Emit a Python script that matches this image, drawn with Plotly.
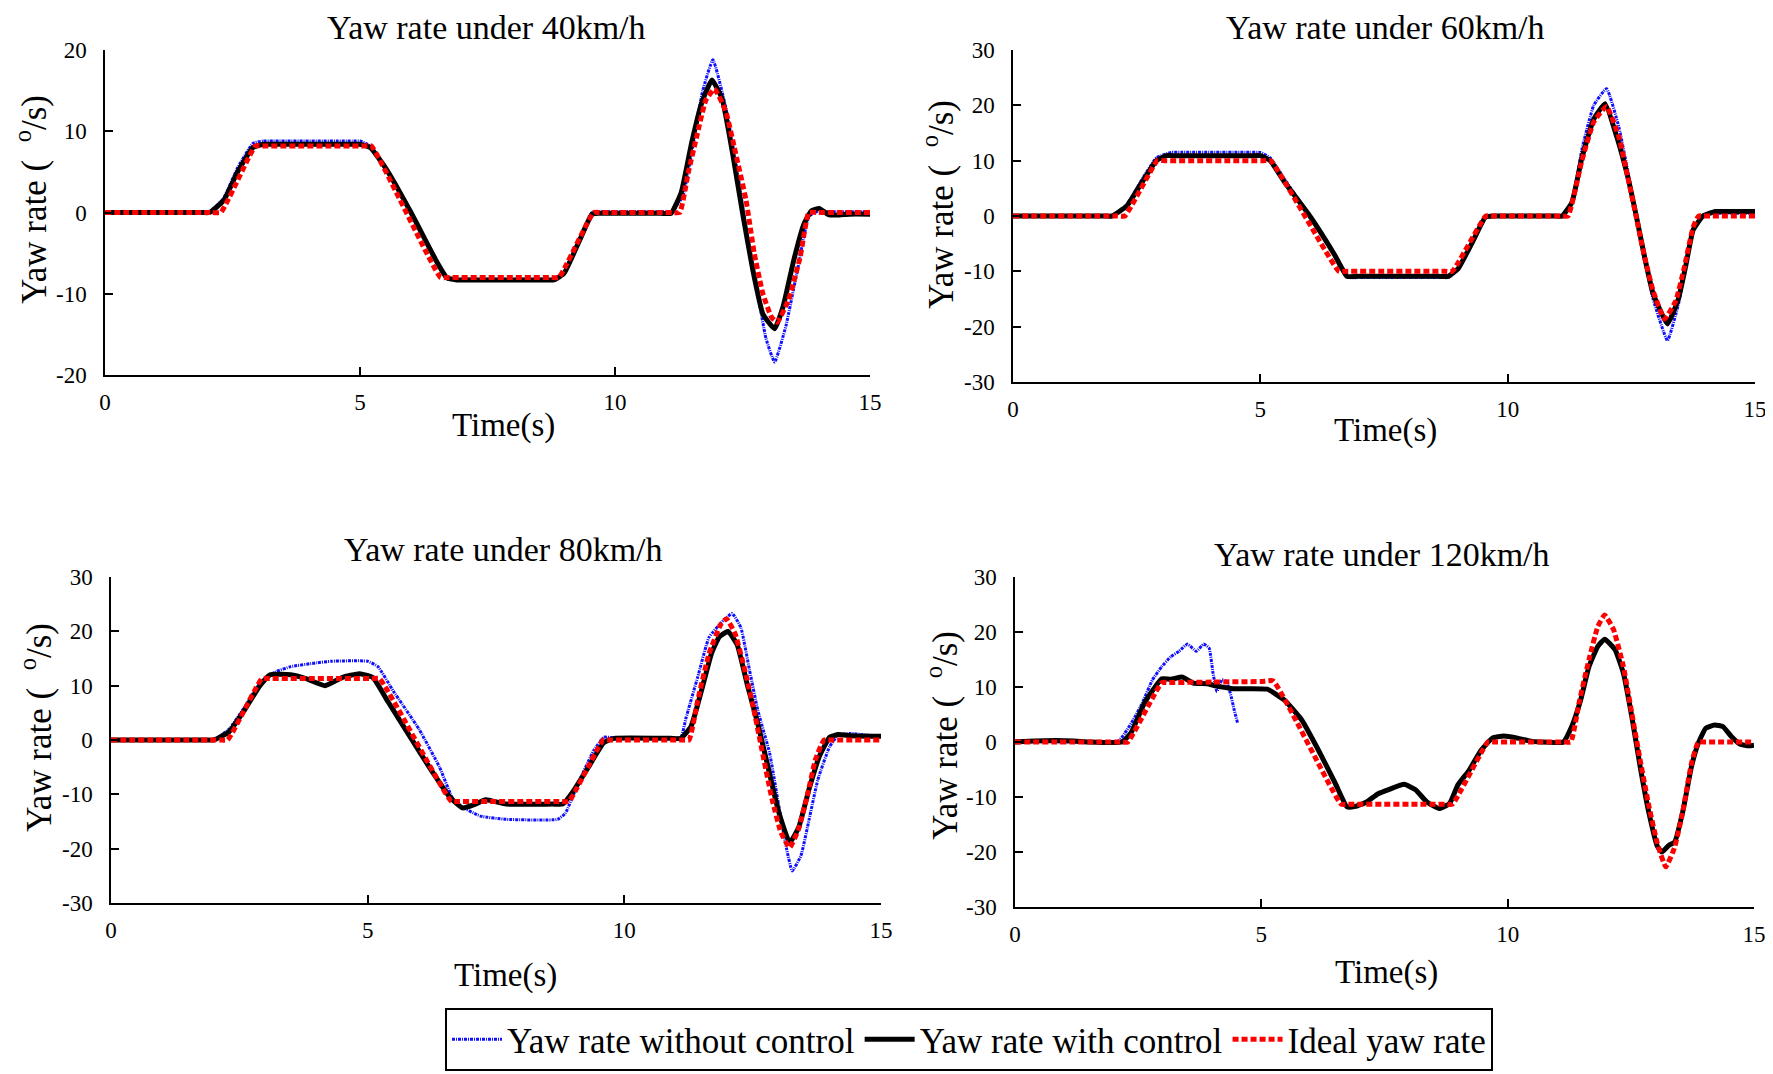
import plotly.graph_objects as go

W, H = 1773, 1074          # browser window
OFF = 8                    # default page margin around the plot div
FW, FH = W - OFF, H - OFF  # figure size
FONT = "Liberation Serif"

# ---------------- data ----------------
# 40 km/h
t40_wo = [0, 1.9, 2.05, 2.33, 2.6, 2.9, 3.1, 3.3, 4.85, 5.0, 5.2, 5.5, 6.0, 6.5, 6.7, 6.9, 8.6, 8.8, 9.0, 9.3, 9.55, 9.7, 9.9, 10.9, 11.1, 11.33, 11.55, 11.72, 11.92, 12.17, 12.4, 12.57, 12.8, 12.96, 13.13, 13.35, 13.58, 13.8, 13.95, 14.1, 15]
y40_wo = [0, 0, 0, 1.8, 5.5, 8.5, 8.8, 8.8, 8.8, 8.8, 8.2, 5.5, 0, -6, -8.2, -8.2, -8.2, -8.2, -7.3, -3.3, 0, 0.1, 0.1, 0.1, 0.1, 2, 9, 15, 18.8, 13, 5, -2, -10, -15.5, -18.4, -14, -7, -0.5, 0.1, 0.1, 0.1]
t40_wc = [0, 1.9, 2.05, 2.33, 2.6, 2.9, 3.1, 3.3, 4.85, 5.0, 5.2, 5.5, 6.0, 6.5, 6.7, 6.9, 7.1, 8.6, 8.8, 9.0, 9.3, 9.55, 9.7, 9.9, 10.9, 11.1, 11.3, 11.5, 11.7, 11.9, 12.1, 12.3, 12.5, 12.7, 12.9, 13.13, 13.3, 13.5, 13.7, 13.85, 14.0, 14.2, 14.4, 14.6, 15]
y40_wc = [0, 0, 0, 1.5, 5, 8.0, 8.4, 8.4, 8.4, 8.4, 8.0, 5.5, 0, -6, -8.0, -8.3, -8.3, -8.3, -8.3, -7.5, -3.5, -0.2, -0.1, -0.1, -0.1, -0.1, 2.5, 8.5, 13.5, 16.3, 14, 7.5, 0, -7, -12.5, -14.3, -11.5, -6, -1.5, 0.2, 0.5, -0.3, -0.3, -0.2, -0.2]
t40_id = [0, 2.1, 2.27, 2.95, 3.1, 5.07, 5.22, 6.58, 6.73, 8.75, 8.9, 9.58, 9.73, 11.12, 11.27, 11.44, 11.6, 11.78, 11.95, 12.17, 12.34, 12.57, 12.73, 12.9, 13.07, 13.18, 13.4, 13.63, 13.8, 13.95, 15]
y40_id = [0, 0, 0, 8.2, 8.2, 8.2, 8.2, -8.0, -8.0, -8.0, -8.0, 0, 0, 0, 0, 5, 9.3, 13.8, 15.2, 12.5, 8, 1.5, -5, -10, -12.9, -13.5, -10.8, -5.5, 0, 0, 0]

# 60 km/h
t60_wo = [0, 1.85, 2.0, 2.3, 2.6, 2.9, 3.2, 3.4, 4.8, 5.0, 5.2, 5.5, 6.0, 6.5, 6.8, 7.0, 8.6, 8.8, 9.0, 9.3, 9.55, 9.75, 10.9, 11.1, 11.3, 11.5, 11.74, 12.0, 12.25, 12.43, 12.6, 12.77, 12.94, 13.23, 13.45, 13.6, 13.75, 13.95, 14.2, 14.4, 15]
y60_wo = [0, 0, 0, 2, 6.5, 10.5, 11.5, 11.5, 11.5, 11.5, 10.5, 6.5, 0, -7, -11.1, -11.1, -11.1, -11.1, -9.5, -4.5, -0.2, 0, 0, 0, 2.5, 12, 20, 23, 16, 8, 0, -8, -15, -22.5, -16, -9, -2.5, 0, 0.5, 0.5, 0.5]
t60_wc = [0, 1.85, 2.0, 2.3, 2.6, 2.9, 3.1, 3.3, 4.8, 5.0, 5.2, 5.5, 6.0, 6.5, 6.75, 6.95, 8.6, 8.8, 9.0, 9.3, 9.55, 9.75, 10.9, 11.1, 11.3, 11.5, 11.74, 11.97, 12.2, 12.43, 12.6, 12.77, 12.94, 13.23, 13.45, 13.6, 13.75, 13.95, 14.2, 14.4, 15]
y60_wc = [0, 0, 0, 1.8, 6, 10, 10.9, 10.9, 10.9, 10.9, 10, 6, 0, -7, -10.9, -10.9, -10.9, -10.9, -9.5, -4.5, -0.2, 0, 0, 0, 2.5, 10.5, 17.5, 20.3, 14.5, 7, 0, -7.5, -14, -19.5, -15, -9, -2.5, 0, 0.8, 0.8, 0.8]
t60_id = [0, 2.1, 2.26, 2.92, 3.07, 5.06, 5.21, 6.59, 6.74, 8.73, 8.88, 9.56, 9.71, 11.07, 11.22, 11.5, 11.74, 12.0, 12.25, 12.43, 12.6, 12.77, 12.94, 13.17, 13.4, 13.57, 13.75, 13.86, 14.0, 15]
y60_id = [0, 0, 0, 10, 10, 10, 10, -10, -10, -10, -10, 0, 0, 0, 0, 10, 17, 19.8, 14.2, 7, -0.2, -7.5, -13.5, -18.6, -15.3, -9.3, -2, 0, 0, 0]

# 80 km/h
t80_wo = [0, 1.85, 2.0, 2.3, 2.6, 2.9, 3.2, 3.5, 4.0, 4.3, 5.0, 5.2, 5.5, 6.0, 6.4, 6.7, 7.2, 7.7, 8.7, 8.85, 9.1, 9.4, 9.6, 9.8, 10.9, 11.1, 11.2, 11.43, 11.65, 11.93, 12.1, 12.27, 12.44, 12.6, 12.83, 13.0, 13.16, 13.27, 13.44, 13.6, 13.77, 14.0, 14.17, 14.4, 15]
y80_wo = [0, 0, 0, 2, 6, 10.5, 12.5, 13.5, 14.2, 14.5, 14.5, 13.5, 9, 2, -5, -11.5, -14, -14.6, -14.6, -13.5, -8, -2, 0.5, 0.4, 0.4, 0.4, 4, 11.6, 18.9, 22, 23.3, 20.7, 12.8, 5.5, -2.4, -11.6, -20, -24.1, -21.3, -14.6, -7.3, -1.2, 0.9, 1.2, 0.6]
t80_wc = [0, 1.85, 2.0, 2.3, 2.6, 2.9, 3.1, 3.5, 3.8, 4.17, 4.5, 4.84, 5.1, 5.4, 5.8, 6.2, 6.6, 6.85, 7.1, 7.3, 7.7, 8.6, 8.8, 9.0, 9.3, 9.6, 9.8, 10.9, 11.1, 11.3, 11.5, 11.7, 11.85, 12.02, 12.2, 12.4, 12.6, 12.8, 13.0, 13.22, 13.4, 13.6, 13.8, 14.0, 14.17, 14.4, 15]
y80_wc = [0, 0, 0, 1.5, 5.5, 10, 12, 12, 11.3, 10, 11.5, 12.2, 11.5, 7, 1, -5, -10.5, -12.5, -11.8, -11, -11.8, -11.8, -11.8, -9.5, -5, -0.5, 0.3, 0.3, 0.3, 2.5, 9, 16, 19, 20, 17.5, 10, 3, -5, -13, -18.9, -16, -9, -3, 0.5, 1.0, 0.8, 0.7]
t80_id = [0, 2.12, 2.27, 2.94, 3.09, 5.08, 5.23, 6.63, 6.78, 8.77, 8.92, 9.59, 9.74, 11.11, 11.26, 11.43, 11.65, 11.88, 11.99, 12.16, 12.38, 12.55, 12.72, 12.88, 13.05, 13.22, 13.39, 13.56, 13.72, 13.89, 14.04, 15]
y80_id = [0, 0, 0, 11.3, 11.3, 11.3, 11.3, -11.3, -11.3, -11.3, -11.3, 0, 0, 0, 0, 7.3, 15.9, 21.3, 22.3, 19.5, 11.6, 4.3, -3.7, -11, -17, -19.8, -16.5, -10.4, -3.7, 0, 0, 0]

# 120 km/h (uncontrolled run ends early)
t120_wo = [0, 2.1, 2.23, 2.4, 2.58, 2.79, 2.98, 3.16, 3.33, 3.5, 3.68, 3.83, 3.94, 4.02, 4.1, 4.2, 4.29, 4.37, 4.45, 4.52]
y120_wo = [0.2, 0.2, 1.6, 4, 7, 11.3, 13.7, 15.5, 16.5, 17.8, 16.5, 17.8, 17.1, 12.5, 9.2, 11.3, 11, 8.9, 5.8, 3.4]
t120_wc = [0, 0.4, 1.2, 1.5, 2.17, 2.35, 2.64, 2.98, 3.16, 3.4, 3.62, 3.9, 4.08, 4.43, 5.12, 5.47, 5.82, 6.16, 6.5, 6.74, 6.91, 7.14, 7.37, 7.6, 7.9, 8.13, 8.36, 8.61, 8.82, 8.99, 9.22, 9.46, 9.69, 9.92, 10.16, 10.44, 10.67, 11.13, 11.3, 11.48, 11.65, 11.83, 11.97, 12.18, 12.35, 12.52, 12.69, 12.87, 13.04, 13.13, 13.27, 13.39, 13.56, 13.73, 13.87, 14.02, 14.2, 14.37, 14.54, 14.72, 14.9, 15]
y120_wc = [0, 0.2, 0.2, 0, 0, 1.6, 7.3, 11.5, 11.4, 11.8, 10.7, 10.6, 10.2, 9.7, 9.6, 7.6, 4, -1.5, -7.5, -11.8, -11.7, -10.9, -9.4, -8.6, -7.7, -8.7, -10.9, -12.1, -11.2, -7.8, -5.1, -1.5, 0.7, 1.1, 0.8, 0.2, 0, 0, 2.8, 7.6, 13.7, 17.4, 18.7, 16.8, 12.5, 4.6, -4.5, -13, -19, -20, -18.8, -18.2, -12.4, -4.5, -0.2, 2.5, 3.1, 2.8, 1, -0.4, -0.7, -0.6]
t120_id = [0, 2.14, 2.29, 2.98, 3.13, 4.0, 5.0, 5.24, 6.62, 6.77, 8.73, 8.88, 9.6, 9.75, 11.13, 11.28, 11.46, 11.65, 11.83, 11.97, 12.15, 12.35, 12.52, 12.69, 12.87, 13.04, 13.21, 13.39, 13.56, 13.73, 13.87, 14.02, 15]
y120_id = [0, 0, 0, 10.8, 10.8, 10.9, 11.0, 11.1, -11.3, -11.3, -11.3, -11.3, 0, 0, 0, 0, 7.6, 15, 21, 23.1, 20.4, 13.7, 5.2, -3.3, -11.8, -18.5, -22.7, -19.1, -12.4, -3.9, 0, 0, 0]

panel_titles = ["Yaw rate under 40km/h", "Yaw rate under 60km/h",
                "Yaw rate under 80km/h", "Yaw rate under 120km/h"]
series_names = ["Yaw rate without control", "Yaw rate with control", "Ideal yaw rate"]
x_ticks = [0, 5, 10, 15]
y_ticks_40 = [-20, -10, 0, 10, 20]
y_ticks_other = [-30, -20, -10, 0, 10, 20, 30]

panels = [
    (t40_wo, y40_wo, t40_wc, y40_wc, t40_id, y40_id, y_ticks_40),
    (t60_wo, y60_wo, t60_wc, y60_wc, t60_id, y60_id, y_ticks_other),
    (t80_wo, y80_wo, t80_wc, y80_wc, t80_id, y80_id, y_ticks_other),
    (t120_wo, y120_wo, t120_wc, y120_wc, t120_id, y120_id, y_ticks_other),
]

# ---------------- layout geometry (screen pixels) ----------------
boxes = [(105, 870, 50, 375), (1013, 1755, 50, 382),
         (111, 881, 577, 903), (1015, 1754, 577, 907)]

def px(x):
    return (x - OFF) / FW

def py(y):
    return 1 - (y - OFF) / FH

fig = go.Figure()

styles = [
    dict(color="#1010ff", width=3, dash="3px,1px,1px,1px", shape="spline", smoothing=0.4),
    dict(color="#000000", width=5, shape="spline", smoothing=0.4),
    dict(color="#ff0000", width=5, dash="6px,3px", shape="spline", smoothing=0.4),
]

for i, p in enumerate(panels):
    xs = [p[0], p[2], p[4]]
    ys = [p[1], p[3], p[5]]
    ax = "" if i == 0 else str(i + 1)
    for k in range(3):
        fig.add_trace(go.Scatter(
            x=xs[k], y=ys[k], mode="lines", name=series_names[k],
            line=styles[k], xaxis="x" + ax, yaxis="y" + ax,
            showlegend=(i == 0),
        ))
    l, r, t, b = boxes[i]
    yt = p[6]
    common = dict(showline=True, linecolor="black", linewidth=1.5,
                  ticks="inside", ticklen=8, tickwidth=1.5, tickcolor="black",
                  showgrid=False, zeroline=False,
                  tickfont=dict(family=FONT, size=23, color="black"))
    fig.layout["xaxis" + ax] = dict(domain=[px(l), px(r)], range=[0, 15],
                                    tickvals=x_ticks, ticktext=[str(v) for v in x_ticks],
                                    ticklabelstandoff=6, anchor="y" + ax, **common)
    fig.layout["yaxis" + ax] = dict(domain=[py(b), py(t)], range=[yt[0], yt[-1]],
                                    tickvals=yt, ticktext=[str(v) for v in yt],
                                    ticklabelstandoff=12, anchor="x" + ax, **common)

# (title cx, title top, xlabel cx, xlabel cy, ylabel cx, ylabel cy)
text_pos = [(486, 8, 503, 425, 32, 200),
            (1385, 8, 1385, 430, 938, 205),
            (504, 530, 505, 975, 36, 728),
            (1382, 535, 1386, 972, 942, 735)]

ann = []
for i, (tx, ty, xx, xy, yx, yy) in enumerate(text_pos):
    ann.append(dict(text=panel_titles[i], x=px(tx), y=py(ty), xref="paper", yref="paper",
                    showarrow=False, xanchor="center", yanchor="top", borderpad=0,
                    font=dict(family=FONT, size=34, color="black")))
    ann.append(dict(text="Time(s)", x=px(xx), y=py(xy), xref="paper", yref="paper",
                    showarrow=False, xanchor="center", yanchor="middle",
                    font=dict(family=FONT, size=33, color="black")))
    ann.append(dict(text="Yaw rate (  <sup>o</sup>/s)", x=px(yx), y=py(yy), xref="paper", yref="paper",
                    showarrow=False, xanchor="center", yanchor="middle", textangle=-90,
                    font=dict(family=FONT, size=35, color="black")))

fig.update_layout(
    width=FW, height=FH,
    margin=dict(l=0, r=0, t=0, b=0, autoexpand=False),
    paper_bgcolor="white", plot_bgcolor="white",
    font=dict(family=FONT),
    annotations=ann,
    showlegend=True,
    legend=dict(orientation="h", x=px(969), xanchor="center", y=py(1071), yanchor="bottom",
                bordercolor="black", borderwidth=2, bgcolor="white",
                font=dict(family=FONT, size=35, color="black"),
                itemwidth=50, tracegroupgap=0),
)

fig.write_html("out.html")
